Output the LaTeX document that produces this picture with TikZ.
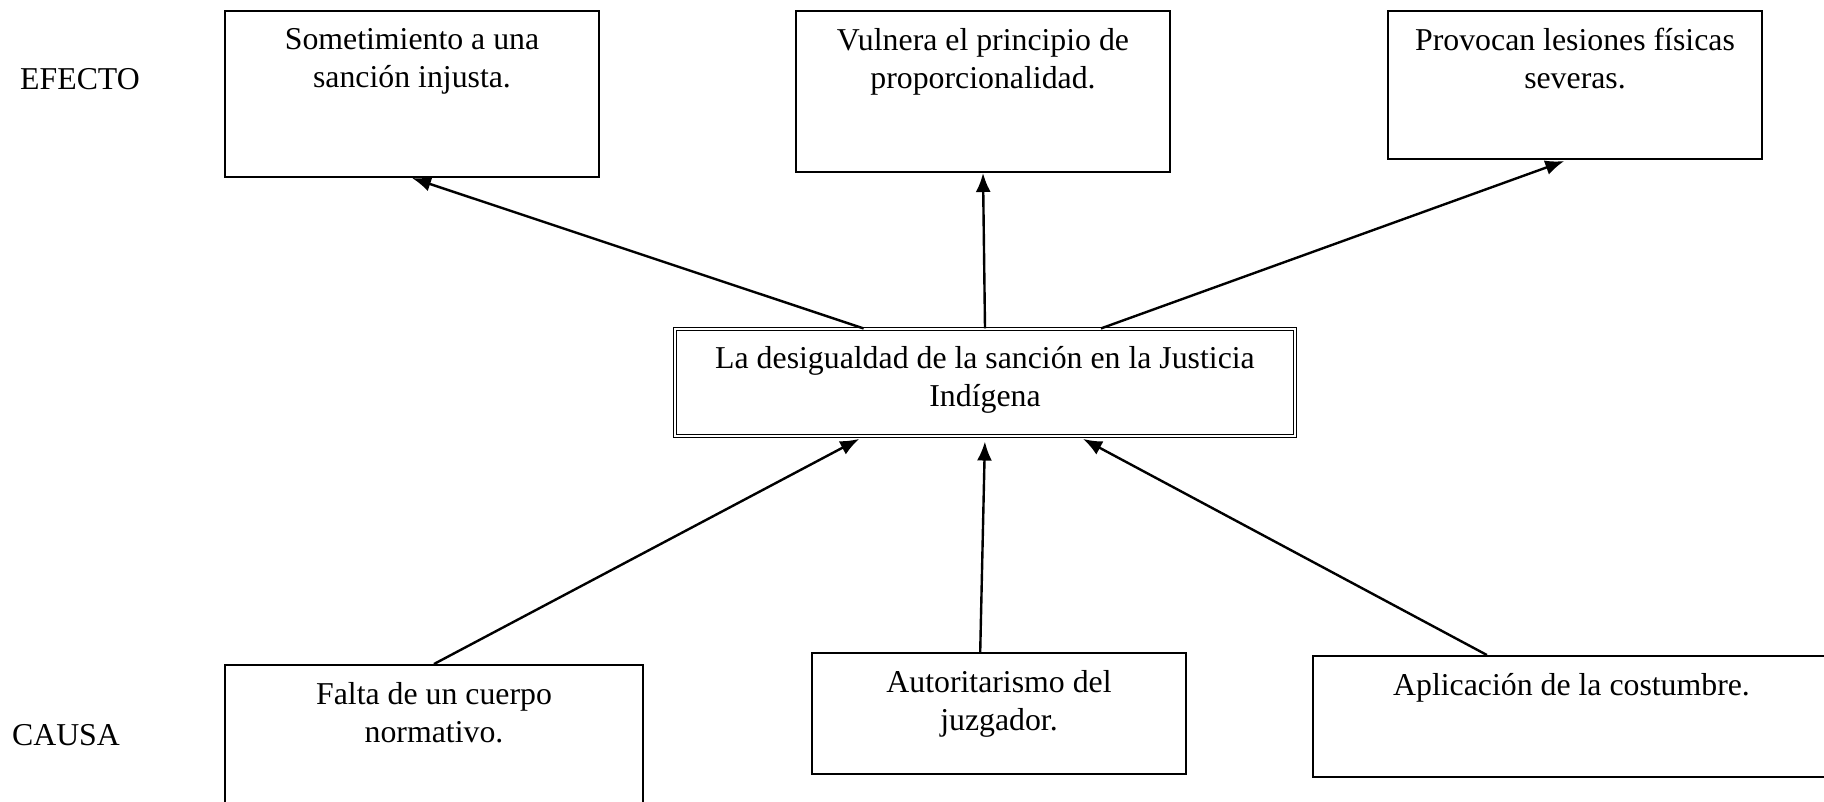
\documentclass[tikz,border=0pt]{standalone}
\usepackage{fontspec}
\setmainfont{Liberation Serif}
\usetikzlibrary{arrows.meta}

\begin{document}
\begin{tikzpicture}[x=0.5pt,y=-0.5pt,every node/.style={font=\fontsize{15.9}{19}\selectfont}]
		
		\tikzset{box/.style = {shape=rectangle,draw,line width=1pt,inner sep=0pt}}
		\tikzset{frame/.style = {box,double,line width=0.55pt,double distance=1.2pt}}
		\tikzset{txt/.style = {anchor=north,inner sep=0pt,align=center,yshift=-9pt}}
		\tikzset{edge/.style = {->,> = {Latex[length=9.5pt,width=7.5pt]},line width=1.2pt}}
		
		\useasboundingbox (0,0) rectangle (1824,802);
		
		\node (efecto) at (80,79) {EFECTO};
		\node (causa) at (66,735) {CAUSA};
		
		\node[box,minimum width=187pt,minimum height=83pt,label={[txt]north:Sometimiento a una\\sanción injusta.}] (E1) at (412,94) {};
		\node[box,minimum width=187pt,minimum height=80.5pt,label={[txt]north:Vulnera el principio de\\proporcionalidad.}] (E2) at (983,91.5) {};
		\node[box,minimum width=187pt,minimum height=74pt,label={[txt]north:Provocan lesiones físicas\\severas.}] (E3) at (1575,85) {};
		
		\node[frame,minimum width=310pt,minimum height=53.5pt,label={[txt]north:La desigualdad de la sanción en la Justicia\\Indígena}] (C) at (985,382.5) {};
		
		\node[box,minimum width=209pt,minimum height=82.5pt,label={[txt]north:Falta de un cuerpo\\normativo.}] (B1) at (434,747.5) {};
		\node[box,minimum width=187pt,minimum height=60.5pt,label={[txt]north:Autoritarismo del\\juzgador.}] (B2) at (999,713.5) {};
		\node[box,minimum width=258.5pt,minimum height=60.5pt,label={[txt]north:Aplicación de la costumbre.}] (B3) at (1571.5,716.5) {};
		
		\draw[edge] (C.156) -- (E1.south);
		\draw[edge] (C.north) -- (E2.south);
		\draw[edge,shorten >=1.5pt] (C.25) -- (E3.264);
		
		\draw[edge,shorten >=2.5pt] (B1.north) -- (C.204);
		\draw[edge,shorten >=2.5pt] (B2.107) -- (C.270);
		\draw[edge,shorten >=2.5pt] (B3.144) -- (C.330);
		
\end{tikzpicture}
\end{document}
